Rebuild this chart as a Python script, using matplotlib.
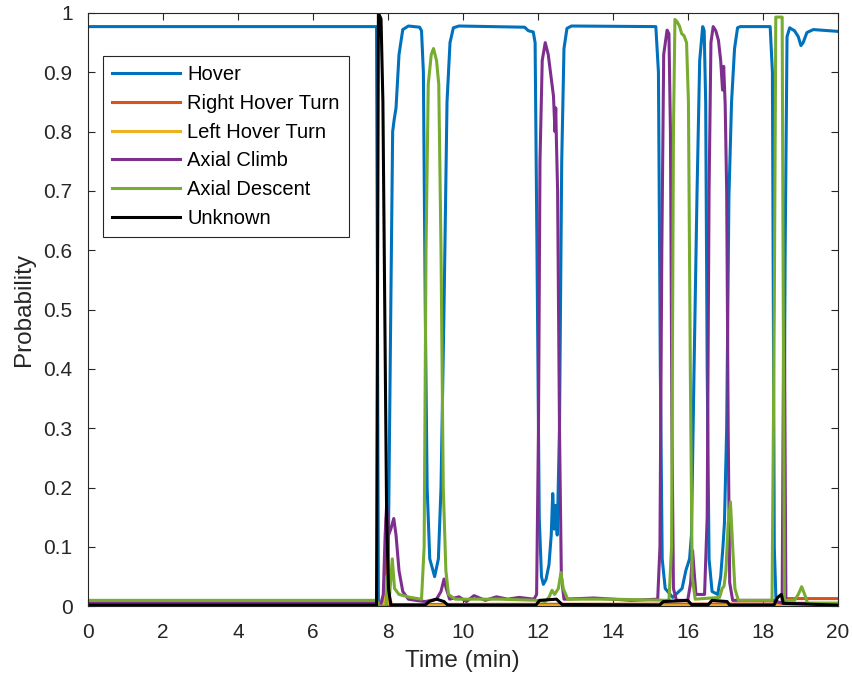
import matplotlib
matplotlib.use("Agg")
import matplotlib.pyplot as plt

# Class probabilities over the flight, (time in min, probability) breakpoints
hover_t = [0.00, 7.70, 7.75, 8.00, 8.08, 8.13, 8.17, 8.22, 8.30, 8.40, 8.55, 8.85,
           8.90, 8.95, 9.00, 9.05, 9.12, 9.25, 9.35, 9.42, 9.50, 9.58, 9.66, 9.75,
           9.90, 11.65, 11.75, 11.88, 11.93, 11.98, 12.04, 12.10, 12.15, 12.22, 12.30,
           12.36, 12.40, 12.44, 12.48, 12.52, 12.58, 12.64, 12.70, 12.78, 12.90, 15.15,
           15.22, 15.27, 15.32, 15.40, 15.60, 15.85, 15.95, 16.05, 16.10, 16.17, 16.25,
           16.32, 16.40, 16.44, 16.48, 16.52, 16.57, 16.65, 16.80, 16.88, 16.94, 16.98,
           17.04, 17.10, 17.17, 17.25, 17.33, 17.40, 18.20, 18.26, 18.31, 18.36, 18.55,
           18.60, 18.65, 18.72, 18.85, 18.95, 19.02, 19.08, 19.18, 19.35, 20.00]
hover_p = [0.977, 0.977, 0.0, 0.0, 0.50, 0.80, 0.82, 0.84, 0.93, 0.972, 0.978, 0.976,
           0.970, 0.90, 0.50, 0.20, 0.08, 0.050, 0.08, 0.20, 0.50, 0.85, 0.95, 0.975,
           0.978, 0.976, 0.970, 0.968, 0.95, 0.60, 0.15, 0.05, 0.037, 0.045, 0.07,
           0.12, 0.19, 0.13, 0.17, 0.12, 0.30, 0.75, 0.94, 0.974, 0.978, 0.977,
           0.90, 0.40, 0.08, 0.03, 0.015, 0.03, 0.06, 0.08, 0.12, 0.40, 0.70,
           0.92, 0.977, 0.970, 0.85, 0.40, 0.08, 0.025, 0.02, 0.05, 0.10, 0.14,
           0.30, 0.69, 0.85, 0.94, 0.975, 0.977, 0.977, 0.90, 0.10, 0.0, 0.0,
           0.60, 0.96, 0.975, 0.970, 0.960, 0.945, 0.950, 0.967, 0.972, 0.969]

right_turn_t = [0.00, 7.70, 7.90, 7.96, 8.02, 8.10, 18.60, 18.66, 20.00]
right_turn_p = [0.003, 0.003, 0.003, 0.15, 0.02, 0.003, 0.004, 0.013, 0.013]

left_turn_t = [0.00, 7.70, 7.92, 7.97, 8.03, 8.10, 20.00]
left_turn_p = [0.004, 0.004, 0.004, 0.05, 0.004, 0.001, 0.001]

climb_t = [0.00, 7.70, 7.80, 7.88, 7.93, 7.97, 8.02, 8.08, 8.16, 8.22, 8.30, 8.40,
           8.55, 8.75, 9.00, 9.30, 9.42, 9.50, 9.56, 9.65, 9.90, 10.10, 10.30, 10.60,
           10.90, 11.20, 11.50, 11.90, 11.97, 12.02, 12.06, 12.12, 12.20, 12.28, 12.36,
           12.42, 12.46, 12.48, 12.50, 12.53, 12.58, 12.63, 12.70, 13.50, 14.50, 15.20,
           15.26, 15.31, 15.36, 15.45, 15.50, 15.54, 15.58, 15.62, 15.70, 16.00, 16.08,
           16.13, 16.17, 16.22, 16.45, 16.52, 16.57, 16.62, 16.68, 16.75, 16.82, 16.88,
           16.93, 16.96, 17.00, 17.04, 17.08, 17.12, 17.20, 18.30, 18.52, 18.56, 18.58,
           18.62, 18.70, 20.00]
climb_p = [0.006, 0.006, 0.0, 0.02, 0.12, 0.172, 0.12, 0.13, 0.148, 0.12, 0.06, 0.025,
           0.012, 0.010, 0.008, 0.012, 0.025, 0.046, 0.030, 0.012, 0.016, 0.008, 0.018, 0.010,
           0.016, 0.012, 0.015, 0.012, 0.02, 0.30, 0.75, 0.92, 0.950, 0.93, 0.89,
           0.86, 0.80, 0.84, 0.78, 0.70, 0.30, 0.05, 0.012, 0.014, 0.010, 0.012,
           0.10, 0.60, 0.93, 0.971, 0.965, 0.80, 0.30, 0.03, 0.010, 0.010, 0.04,
           0.094, 0.06, 0.02, 0.02, 0.15, 0.70, 0.95, 0.977, 0.97, 0.954, 0.92,
           0.87, 0.91, 0.846, 0.70, 0.30, 0.04, 0.010, 0.010, 0.005, 0.48, 0.48,
           0.005, 0.005, 0.005]

descent_t = [0.00, 7.70, 7.78, 7.95, 8.00, 8.05, 8.12, 8.18, 8.30, 8.60, 8.90, 8.97,
             9.02, 9.08, 9.16, 9.22, 9.30, 9.36, 9.42, 9.48, 9.55, 9.62, 9.80, 11.00,
             12.00, 12.20, 12.30, 12.38, 12.45, 12.55, 12.62, 12.68, 12.80, 14.00, 15.50,
             15.57, 15.62, 15.66, 15.72, 15.78, 15.84, 15.90, 15.97, 16.02, 16.07, 16.12,
             16.20, 16.85, 16.92, 16.97, 17.02, 17.08, 17.14, 17.20, 17.26, 17.35, 18.25,
             18.31, 18.35, 18.52, 18.55, 18.58, 18.85, 18.95, 19.04, 19.12, 19.20, 20.00]
descent_p = [0.010, 0.010, 0.0, 0.0, 0.05, 0.02, 0.08, 0.03, 0.020, 0.015, 0.012, 0.10,
             0.60, 0.88, 0.93, 0.94, 0.92, 0.88, 0.60, 0.20, 0.06, 0.02, 0.012, 0.012,
             0.010, 0.008, 0.015, 0.027, 0.020, 0.030, 0.057, 0.030, 0.012, 0.012, 0.010,
             0.10, 0.80, 0.989, 0.985, 0.978, 0.965, 0.962, 0.950, 0.85, 0.40, 0.05,
             0.012, 0.015, 0.030, 0.034, 0.06, 0.14, 0.176, 0.10, 0.03, 0.010, 0.010,
             0.50, 0.993, 0.993, 0.50, 0.010, 0.010, 0.020, 0.033, 0.020, 0.005, 0.005]

unknown_t = [0.00, 7.70, 7.73, 7.75, 7.82, 7.87, 7.92, 7.97, 8.02, 8.08, 9.00, 9.10,
             9.30, 9.50, 9.60, 11.95, 12.05, 12.50, 12.65, 15.25, 15.35, 16.00, 16.10,
             16.55, 16.65, 17.05, 17.12, 18.30, 18.40, 18.50, 18.55, 20.00]
unknown_p = [0.002, 0.002, 0.60, 1.0, 0.99, 0.85, 0.50, 0.15, 0.03, 0.002, 0.002, 0.008,
             0.012, 0.008, 0.002, 0.002, 0.010, 0.012, 0.003, 0.002, 0.008, 0.010, 0.003,
             0.003, 0.010, 0.008, 0.002, 0.002, 0.015, 0.020, 0.005, 0.002]

series = [
    ("Hover", hover_t, hover_p, "#0072BD"),
    ("Right Hover Turn", right_turn_t, right_turn_p, "#D95319"),
    ("Left Hover Turn", left_turn_t, left_turn_p, "#EDB120"),
    ("Axial Climb", climb_t, climb_p, "#7E2F8E"),
    ("Axial Descent", descent_t, descent_p, "#77AC30"),
    ("Unknown", unknown_t, unknown_p, "#000000"),
]

plt.rcParams["font.family"] = ["Liberation Sans", "DejaVu Sans"]
ink = "#262626"

fig = plt.figure(figsize=(8.53, 6.82), dpi=100)
ax = fig.add_axes([0.103, 0.111, 0.879, 0.870])

for name, t, p, color in series:
    ax.plot(t, p, color=color, linewidth=2.2, label=name)

ax.set_xlim(0, 20)
ax.set_ylim(0, 1)
ax.set_xticks(range(0, 21, 2))
ax.set_yticks([i / 10 for i in range(11)])
ax.set_yticklabels(["0"] + [f"{i / 10:g}" for i in range(1, 10)] + ["1"])
ax.tick_params(direction="in", top=True, right=True, length=5, width=0.8,
               colors=ink, labelsize=15)
ax.tick_params(axis="x", pad=12)
ax.tick_params(axis="y", pad=11)
for spine in ax.spines.values():
    spine.set_color(ink)
    spine.set_linewidth(0.8)

ax.set_xlabel("Time (min)", fontsize=17.5, color=ink, labelpad=6)
ax.set_ylabel("Probability", fontsize=17.5, color=ink, labelpad=6)

leg = ax.legend(loc="upper left", bbox_to_anchor=(0.02, 0.927), fontsize=14.5,
                handlelength=3.4, handletextpad=0.35, labelspacing=0.48,
                borderpad=0.45, borderaxespad=0.0, fancybox=False,
                framealpha=1.0, edgecolor=ink)
leg.get_frame().set_linewidth(0.8)

fig.savefig("out.png", dpi=100)
plt.close(fig)
